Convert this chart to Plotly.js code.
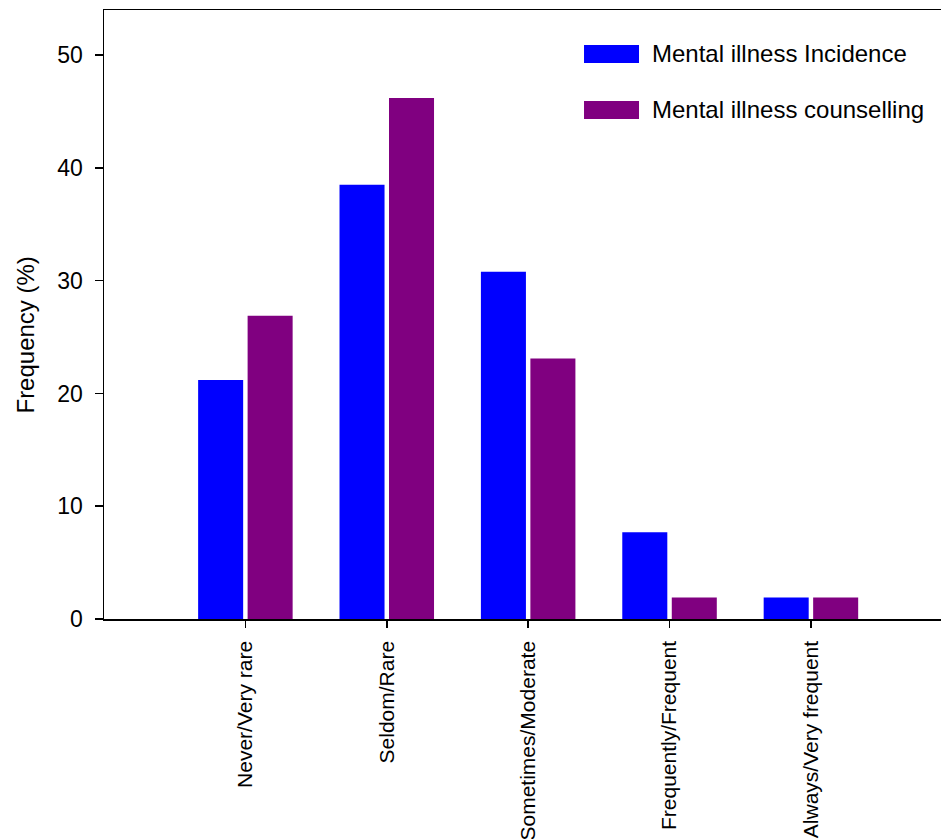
<!DOCTYPE html>
<html>
<head>
<meta charset="utf-8">
<script src="https://cdn.plot.ly/plotly-3.0.1.min.js"></script>
<style>html,body{margin:0;padding:0;background:#fff;}#chart{width:941px;height:839px;}</style>
</head>
<body>
<div id="chart"></div>
<script>
const categories = ['Never/Very rare', 'Seldom/Rare', 'Sometimes/Moderate', 'Frequently/Frequent', 'Always/Very frequent'];
const incidence = [21.2, 38.5, 30.8, 7.7, 1.9];
const counselling = [26.9, 46.2, 23.1, 1.9, 1.9];
const seriesNames = ['Mental illness Incidence', 'Mental illness counselling'];
const seriesColors = ['#0000FF', '#800080'];
const yTicks = [0, 10, 20, 30, 40, 50];
const yTitle = 'Frequency (%)';

const FONT = '"Liberation Sans", Arial, sans-serif';

const traces = [
  {type: 'bar', x: categories, y: incidence, name: seriesNames[0], marker: {color: seriesColors[0], line: {width: 0}}, showlegend: false},
  {type: 'bar', x: categories, y: counselling, name: seriesNames[1], marker: {color: seriesColors[1], line: {width: 0}}, showlegend: false}
];

// legend drawn as swatches + text (paper coords within plot area)
const legendRows = [{y0: 0.913, y1: 0.9426, ty: 0.9278}, {y0: 0.8211, y1: 0.8506, ty: 0.8358}];
const shapes = legendRows.map((r, i) => ({
  type: 'rect', xref: 'paper', yref: 'paper', x0: 0.5735, x1: 0.6392, y0: r.y0, y1: r.y1,
  fillcolor: seriesColors[i], line: {width: 0}
}));
const annotations = legendRows.map((r, i) => ({
  xref: 'paper', yref: 'paper', x: 0.6525, y: r.ty, xanchor: 'left', yanchor: 'middle',
  text: seriesNames[i], showarrow: false, font: {family: FONT, size: 24, color: '#000'}
}));
annotations.push({
  xref: 'paper', yref: 'paper', x: -0.094, y: 0.466, xanchor: 'center', yanchor: 'middle',
  text: yTitle, textangle: -90, showarrow: false, font: {family: FONT, size: 24, color: '#000'}
});

const layout = {
  width: 941, height: 839,
  margin: {l: 104, r: 0, t: 10, b: 220},
  paper_bgcolor: '#fff', plot_bgcolor: '#fff',
  barmode: 'group', bargap: 0.30, bargroupgap: 0.09,
  font: {family: FONT, color: '#000'},
  xaxis: {
    type: 'category', range: [-1, 4.92],
    showline: true, linecolor: '#000', linewidth: 1.5, mirror: true,
    ticks: 'outside', ticklen: 7, tickwidth: 1.5, tickcolor: '#000',
    tickangle: -90, tickfont: {family: FONT, size: 21, color: '#000'},
    ticklabelstandoff: 5,
    showgrid: false, zeroline: false, fixedrange: true
  },
  yaxis: {
    range: [0, 54], tickvals: yTicks, ticktext: yTicks.map(String),
    showline: true, linecolor: '#000', linewidth: 1.5, mirror: false,
    ticks: 'outside', ticklen: 8, tickwidth: 1.5, tickcolor: '#000',
    tickfont: {family: FONT, size: 23, color: '#000'},
    ticklabelstandoff: 7,
    showgrid: false, zeroline: false, fixedrange: true
  },
  shapes: shapes,
  annotations: annotations
};

Plotly.newPlot('chart', traces, layout, {displayModeBar: false, staticPlot: true});
</script>
</body>
</html>
